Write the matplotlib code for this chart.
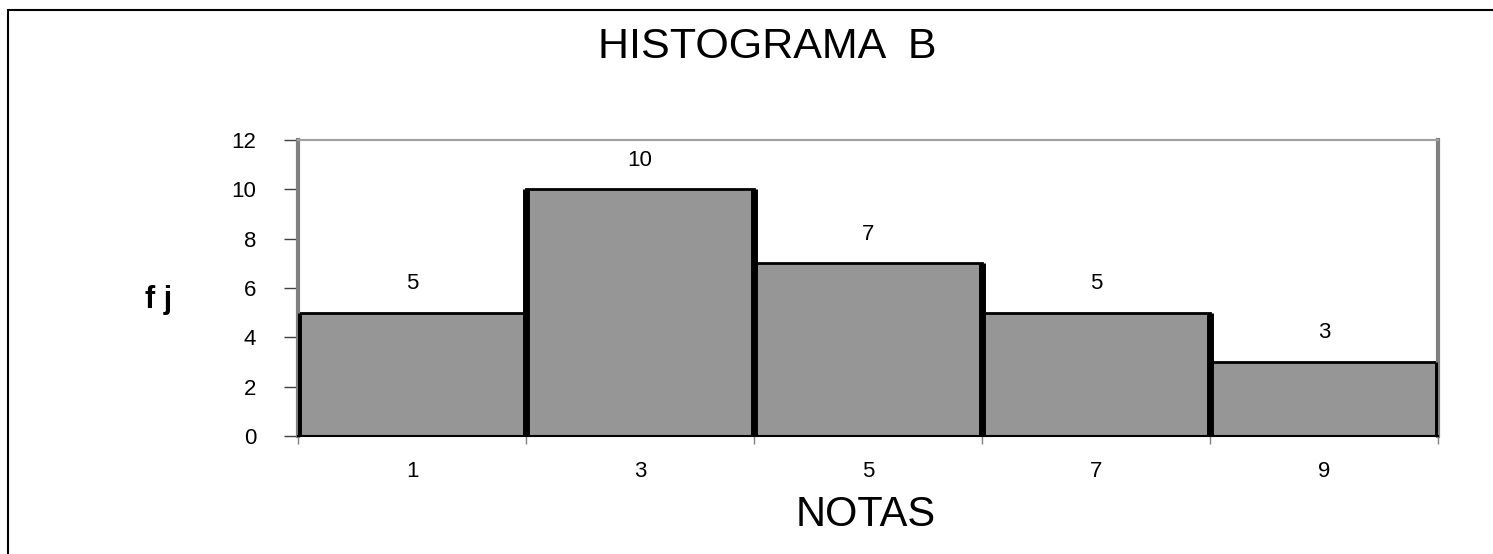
import matplotlib.pyplot as plt
from matplotlib.patches import Rectangle

# class frequencies
notas = [1, 3, 5, 7, 9]
fj = [5, 10, 7, 5, 3]
edges = [0, 2, 4, 6, 8, 10]

plt.rcParams['font.family'] = ['Liberation Sans', 'DejaVu Sans']

fig = plt.figure(figsize=(14.93, 5.54), dpi=100)
ax = fig.add_axes([0.1996, 0.2130, 0.7636, 0.5343])

ax.bar(notas, fj, width=2, color='#969696', edgecolor='black', linewidth=2, zorder=2)

# heavy vertical borders between adjacent bars
ext = [0] + fj + [0]
for i, x in enumerate(edges):
    ax.vlines(x, 0, max(ext[i], ext[i + 1]), color='black', linewidth=5, zorder=3)

for x, v in zip(notas, fj):
    ax.annotate(str(v), (x, v), xytext=(0, 21), textcoords='offset points',
                ha='center', va='center', fontsize=16)

ax.set_xlim(0, 10)
ax.set_ylim(0, 12)
ax.set_yticks(range(0, 13, 2))
ax.tick_params(axis='y', length=10, width=1, color='#404040', pad=20, labelsize=16)

ax.set_xticks(edges)
ax.set_xticklabels([])
ax.tick_params(axis='x', length=6, width=1, color='#808080')
ax.set_xticks(notas, minor=True)
ax.set_xticklabels([str(n) for n in notas], minor=True)
ax.tick_params(axis='x', which='minor', length=0, pad=18, labelsize=16)

for side in ['left', 'right']:
    ax.spines[side].set_color('#808080')
    ax.spines[side].set_linewidth(3)
ax.spines['top'].set_color('#a0a0a0')
ax.spines['top'].set_linewidth(1.5)
ax.spines['bottom'].set_color('black')
ax.spines['bottom'].set_linewidth(1.5)

ax.set_ylabel('f j', rotation=0, fontsize=22, fontweight='bold', va='center', ha='center')
ax.yaxis.set_label_coords(-0.122, 0.459)

fig.text(0.514, 0.915, 'HISTOGRAMA  B', ha='center', va='center', fontsize=31)
fig.text(0.580, 0.070, 'NOTAS', ha='center', va='center', fontsize=30)

# outer frame of the chart area
fig.add_artist(Rectangle((8 / 1493, -0.1), 1.5, 1.1 - 10 / 554, transform=fig.transFigure,
                         fill=False, edgecolor='black', linewidth=1.5))

fig.savefig('out.png', dpi=100)
